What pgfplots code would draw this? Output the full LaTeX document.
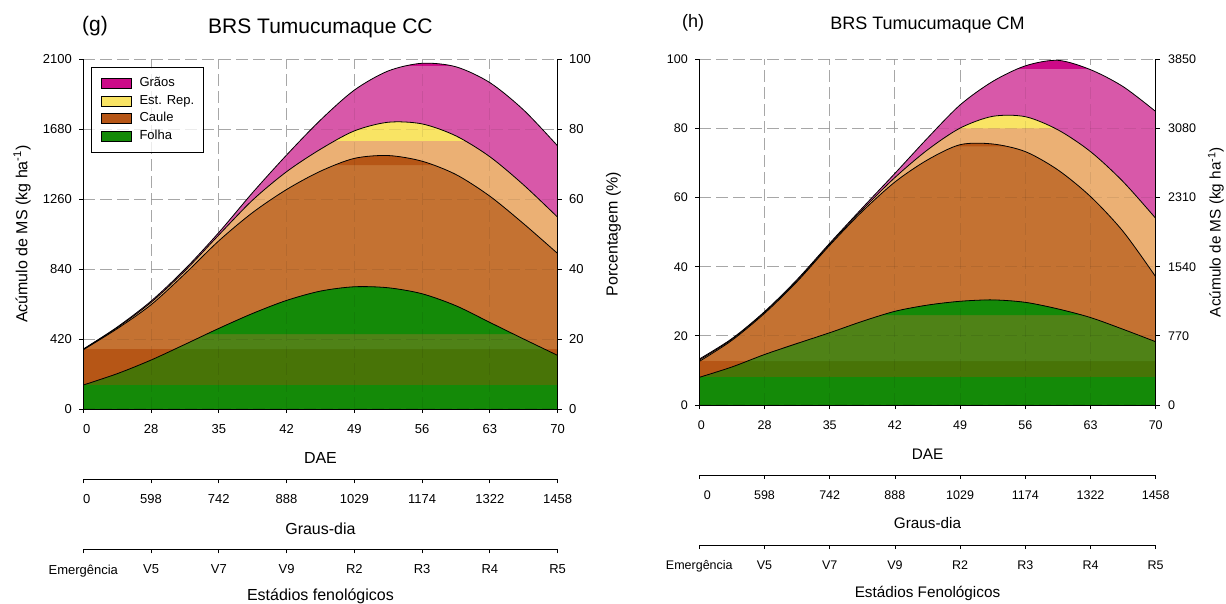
\documentclass[border=0pt]{standalone}
\usepackage{fontspec}
\setmainfont{Liberation Sans}
\usepackage{pgfplots}
\pgfplotsset{compat=1.18}
\usepackage{pgfplotstable}
\usepgfplotslibrary{fillbetween}

\definecolor{cPink}{HTML}{D858A9}
\definecolor{cMag}{HTML}{CC0A88}
\definecolor{cLOr}{HTML}{EBB074}
\definecolor{cYel}{HTML}{F9E464}
\definecolor{cOr}{HTML}{C47232}
\definecolor{cDOr}{HTML}{B65616}
\definecolor{cOlL}{HTML}{4F8217}
\definecolor{cOlD}{HTML}{487407}
\definecolor{cGr}{HTML}{148A08}
\definecolor{cGrid}{HTML}{B6B6B6}

\newcommand{\fs}[1]{\fontsize{#1}{#1}\selectfont}

\pgfplotstableread{
x G E C F
0 360 358 356 144
0.5 492 488 482 212
1 648 640 626 294
1.5 840 830 812 388
2 1060 1045 1010 484
2.5 1300 1255 1180 574
3 1525 1425 1318 652
3.5 1735 1560 1428 708
4 1915 1670 1505 734
4.5 2030 1722 1522 728
5 2076 1712 1488 692
5.5 2055 1640 1408 620
6 1960 1515 1278 520
6.5 1795 1345 1112 420
7 1580 1152 934 322
}\dataG

\pgfplotstableread{
x G E C F
0 13.3 13.0 12.6 8.0
0.5 19.2 19.0 18.7 11.0
1 27.0 26.8 26.5 14.6
1.5 36.3 36.0 35.7 17.8
2 46.8 46.5 46.2 20.9
2.5 57.0 56.5 56.0 24.2
3 67.0 65.8 64.5 27.1
3.5 77.2 73.8 70.9 28.9
4 86.8 80.1 75.3 30.0
4.5 93.6 83.5 75.5 30.4
5 98.1 83.4 73.3 29.7
5.5 99.7 79.6 68.0 27.8
6 97.0 73.3 60.3 25.3
6.5 92.1 64.6 50.2 21.9
7 84.9 54.0 37.1 18.3
}\dataH

\pgfplotsset{
  common/.style={scale only axis, anchor=south west, xmin=0, xmax=7,
    tick align=outside, major tick length=4pt,
    tick style={black, line width=0.8pt},
    axis line style={black, line width=0.9pt},
    xticklabel style={yshift=-8pt},
    scaled ticks=false, /pgf/number format/assume math mode=true},
  curve/.style={black, line width=0.8pt, smooth},
  topgrid/.style={grid=major, grid style={black, opacity=0.08, dash pattern=on 12pt off 5pt, line width=1.1pt},
    major tick length=0pt, xticklabels={}, yticklabels={}, xtick={0,...,7}},
}

\begin{document}
\begin{tikzpicture}

%%%%%%%%%%%%%%%% PANEL G %%%%%%%%%%%%%%%%
\begin{axis}[common,
  at={(83.3pt,194pt)}, width=474.3pt, height=349.7pt,
  ymin=0, ymax=2100,
  axis x line*=bottom, axis y line*=left, xtick pos=left, ytick pos=left,
  xtick={0,...,7}, xticklabels={\hspace{7pt}0,28,35,42,49,56,63,70},
  ytick={0,420,840,1260,1680,2100}, yticklabels={0,420,840,1260,1680,2100},
  yticklabel style={xshift=-4pt},
  grid=major, grid style={color=cGrid, dash pattern=on 12pt off 5pt, line width=1.1pt},
  tick label style={font=\fs{13}},
  xlabel={DAE}, ylabel={Acúmulo de MS (kg ha\textsuperscript{-1})},
  label style={font=\fs{16}},
  xlabel style={at={(axis description cs:0.5,0)}, anchor=center, yshift=-49.3pt},
  ylabel style={at={(axis description cs:-0.1292,0.5)}, anchor=center},
  title={BRS Tumucumaque CC},
  title style={font=\fs{21}, at={(axis description cs:0.5,1)}, anchor=center, yshift=25.3pt},
  legend image code/.code={\draw[#1, draw=black, line width=0.6pt] (0pt,-5pt) rectangle (30pt,5pt);},
  legend cell align=left,
  legend style={at={(axis description cs:0,1)}, anchor=north west, xshift=8.1pt, yshift=-7.4pt,
    draw=black, line width=0.9pt, font=\fs{13}, inner xsep=9.6pt, inner ysep=10pt, row sep=5pt,
    nodes={inner sep=0pt, text height=9.5pt, text depth=3pt},
    /tikz/every odd column/.append style={column sep=7.5pt}},
  extra description/.code={\node[font=\fs{21}] at (axis description cs:0.0247,1.0952) {(g)};},
]
\addlegendimage{fill=cMag}\addlegendentry{Grãos}
\addlegendimage{fill=cYel}\addlegendentry{Est. Rep.}
\addlegendimage{fill=cDOr}\addlegendentry{Caule}
\addlegendimage{fill=cGr}\addlegendentry{Folha}

\addplot[draw=none, name path=base, forget plot] coordinates {(0,0) (7,0)};
\addplot[draw=none, name path=LG, forget plot] coordinates {(0,2060) (7,2060)};
\addplot[draw=none, name path=LE, forget plot] coordinates {(0,1610) (7,1610)};
\addplot[draw=none, name path=LC, forget plot] coordinates {(0,1464) (7,1464)};
\addplot[draw=none, name path=LF1, forget plot] coordinates {(0,360) (7,360)};
\addplot[draw=none, name path=LF2, forget plot] coordinates {(0,450) (7,450)};
\addplot[draw=none, name path=LF0, forget plot] coordinates {(0,144) (7,144)};
\addplot[draw=none, smooth, name path=G, forget plot] table[x=x,y=G]{\dataG};
\addplot[draw=none, smooth, name path=E, forget plot] table[x=x,y=E]{\dataG};
\addplot[draw=none, smooth, name path=C, forget plot] table[x=x,y=C]{\dataG};
\addplot[draw=none, smooth, name path=F, forget plot] table[x=x,y=F]{\dataG};

\addplot[fill=cPink, draw=none, forget plot] fill between[of=G and base];
\addplot[fill=cMag, draw=none, forget plot] fill between[of=G and LG, split, every segment no 0/.style={fill=none}, every segment no 2/.style={fill=none}];
\addplot[fill=cLOr, draw=none, forget plot] fill between[of=E and base];
\addplot[fill=cYel, draw=none, forget plot] fill between[of=E and LE, split, every segment no 0/.style={fill=none}, every segment no 2/.style={fill=none}];
\addplot[fill=cOr, draw=none, forget plot] fill between[of=C and base];
\addplot[fill=cDOr, draw=none, forget plot] fill between[of=C and LC, split, every segment no 0/.style={fill=none}, every segment no 2/.style={fill=none}];
\addplot[fill=cDOr, draw=none, forget plot] fill between[of=LF1 and base];
\addplot[fill=cOlD, draw=none, forget plot] fill between[of=F and base];
\addplot[fill=cOlL, draw=none, forget plot] fill between[of=F and LF1, split, every segment no 0/.style={fill=none}, every segment no 2/.style={fill=none}];
\addplot[fill=cGr, draw=none, forget plot] fill between[of=F and LF2, split, every segment no 0/.style={fill=none}, every segment no 2/.style={fill=none}];
\addplot[fill=cGr, draw=none, forget plot] fill between[of=LF0 and base];

\addplot[curve, forget plot] table[x=x,y=G]{\dataG};
\addplot[curve, forget plot] table[x=x,y=E]{\dataG};
\addplot[curve, forget plot] table[x=x,y=C]{\dataG};
\addplot[curve, forget plot] table[x=x,y=F]{\dataG};
\end{axis}

% faint grid and lines on top (g)
\begin{axis}[common, at={(83.3pt,194pt)}, width=474.3pt, height=349.7pt, ymin=0, ymax=2100,
  axis x line*=bottom, axis y line*=left, topgrid, ytick={0,420,840,1260,1680,2100}]
\addplot[draw=none] coordinates {(0,0)};
\end{axis}

% right axis (g)
\begin{axis}[common, at={(83.3pt,194pt)}, width=474.3pt, height=349.7pt, ymin=0, ymax=100,
  axis x line=none, axis y line*=right, ytick pos=right, xtick=\empty,
  ytick={0,20,40,60,80,100}, yticklabels={0,20,40,60,80,100},
  yticklabel style={xshift=4pt},
  tick label style={font=\fs{13}},
  ylabel={Porcentagem (\%)}, label style={font=\fs{16}},
  ylabel style={at={(axis description cs:1.1179,0.5)}, anchor=center}]
\addplot[draw=none] coordinates {(0,0)};
\end{axis}

% Graus-dia axis (g)
\begin{axis}[common, at={(83.3pt,123.7pt)}, width=474.3pt, height=1pt, ymin=0, ymax=1,
  axis x line*=bottom, axis y line=none, ytick=\empty, xtick pos=left,
  xtick={0,...,7}, xticklabels={\hspace{7pt}0,598,742,888,1029,1174,1322,1458},
  tick label style={font=\fs{13}},
  xlabel={Graus-dia}, label style={font=\fs{16}},
  xlabel style={at={(axis description cs:0.5,0)}, anchor=center, yshift=-49pt}]
\addplot[draw=none] coordinates {(0,0)};
\end{axis}

% Stages axis (g)
\begin{axis}[common, at={(83.3pt,53.7pt)}, width=474.3pt, height=1pt, ymin=0, ymax=1,
  axis x line*=bottom, axis y line=none, ytick=\empty, xtick pos=left,
  xtick={0,...,7}, xticklabels={Emergência,V5,V7,V9,R2,R3,R4,R5},
  tick label style={font=\fs{13}},
  xlabel={Estádios fenológicos}, label style={font=\fs{16}},
  xlabel style={at={(axis description cs:0.5,0)}, anchor=center, yshift=-47.4pt}]
\addplot[draw=none] coordinates {(0,0)};
\end{axis}

%%%%%%%%%%%%%%%% PANEL H %%%%%%%%%%%%%%%%
\begin{axis}[common,
  at={(699.3pt,198pt)}, width=456.4pt, height=345.7pt,
  ymin=0, ymax=100,
  axis x line*=bottom, axis y line*=left, xtick pos=left, ytick pos=left,
  xtick={0,...,7}, xticklabels={\hspace{4pt}0,28,35,42,49,56,63,70},
  ytick={0,20,40,60,80,100}, yticklabels={0,20,40,60,80,100},
  yticklabel style={xshift=-4pt},
  grid=major, grid style={color=cGrid, dash pattern=on 12pt off 5pt, line width=1.1pt},
  tick label style={font=\fs{12.5}},
  xlabel={DAE}, label style={font=\fs{15.3}},
  xlabel style={at={(axis description cs:0.5,0)}, anchor=center, yshift=-49pt},
  title={BRS Tumucumaque CM},
  title style={font=\fs{18}, at={(axis description cs:0.5,1)}, anchor=center, yshift=28.3pt},
  extra description/.code={\node[font=\fs{18}] at (axis description cs:-0.0138,1.104) {(h)};},
]
\addplot[draw=none, name path=base, forget plot] coordinates {(0,0) (7,0)};
\addplot[draw=none, name path=LG, forget plot] coordinates {(0,97.2) (7,97.2)};
\addplot[draw=none, name path=LE, forget plot] coordinates {(0,80) (7,80)};
\addplot[draw=none, name path=LC, forget plot] coordinates {(0,74.8) (7,74.8)};
\addplot[draw=none, name path=LF1, forget plot] coordinates {(0,12.7) (7,12.7)};
\addplot[draw=none, name path=LF2, forget plot] coordinates {(0,26) (7,26)};
\addplot[draw=none, name path=LF0, forget plot] coordinates {(0,8.0) (7,8.0)};
\addplot[draw=none, smooth, name path=G, forget plot] table[x=x,y=G]{\dataH};
\addplot[draw=none, smooth, name path=E, forget plot] table[x=x,y=E]{\dataH};
\addplot[draw=none, smooth, name path=C, forget plot] table[x=x,y=C]{\dataH};
\addplot[draw=none, smooth, name path=F, forget plot] table[x=x,y=F]{\dataH};

\addplot[fill=cPink, draw=none, forget plot] fill between[of=G and base];
\addplot[fill=cMag, draw=none, forget plot] fill between[of=G and LG, split, every segment no 0/.style={fill=none}, every segment no 2/.style={fill=none}];
\addplot[fill=cLOr, draw=none, forget plot] fill between[of=E and base];
\addplot[fill=cYel, draw=none, forget plot] fill between[of=E and LE, split, every segment no 0/.style={fill=none}, every segment no 2/.style={fill=none}];
\addplot[fill=cOr, draw=none, forget plot] fill between[of=C and base];
\addplot[fill=cDOr, draw=none, forget plot] fill between[of=C and LC, split, every segment no 0/.style={fill=none}, every segment no 2/.style={fill=none}];
\addplot[fill=cDOr, draw=none, forget plot] fill between[of=LF1 and base];
\addplot[fill=cOlD, draw=none, forget plot] fill between[of=F and base];
\addplot[fill=cOlL, draw=none, forget plot] fill between[of=F and LF1, split, every segment no 0/.style={fill=none}, every segment no 2/.style={fill=none}];
\addplot[fill=cGr, draw=none, forget plot] fill between[of=F and LF2, split, every segment no 0/.style={fill=none}, every segment no 2/.style={fill=none}];
\addplot[fill=cGr, draw=none, forget plot] fill between[of=LF0 and base];

\addplot[curve, forget plot] table[x=x,y=G]{\dataH};
\addplot[curve, forget plot] table[x=x,y=E]{\dataH};
\addplot[curve, forget plot] table[x=x,y=C]{\dataH};
\addplot[curve, forget plot] table[x=x,y=F]{\dataH};
\end{axis}

\begin{axis}[common, at={(699.3pt,198pt)}, width=456.4pt, height=345.7pt, ymin=0, ymax=100,
  axis x line*=bottom, axis y line*=left, topgrid, ytick={0,20,40,60,80,100}]
\addplot[draw=none] coordinates {(0,0)};
\end{axis}

\begin{axis}[common, at={(699.3pt,198pt)}, width=456.4pt, height=345.7pt, ymin=0, ymax=3850,
  axis x line=none, axis y line*=right, ytick pos=right, xtick=\empty,
  ytick={0,770,1540,2310,3080,3850}, yticklabels={0,770,1540,2310,3080,3850},
  yticklabel style={xshift=5pt},
  tick label style={font=\fs{12.5}},
  ylabel={Acúmulo de MS (kg ha\textsuperscript{-1})}, label style={font=\fs{15.3}},
  ylabel style={at={(axis description cs:1.1321,0.5)}, anchor=center}]
\addplot[draw=none] coordinates {(0,0)};
\end{axis}

\begin{axis}[common, at={(699.3pt,128pt)}, width=456.4pt, height=1pt, ymin=0, ymax=1,
  axis x line*=bottom, axis y line=none, ytick=\empty, xtick pos=left,
  xtick={0,...,7}, xticklabels={\hspace{16pt}0,598,742,888,1029,1174,1322,1458},
  tick label style={font=\fs{12.5}},
  xlabel={Graus-dia}, label style={font=\fs{15.3}},
  xlabel style={at={(axis description cs:0.5,0)}, anchor=center, yshift=-48pt}]
\addplot[draw=none] coordinates {(0,0)};
\end{axis}

\begin{axis}[common, at={(699.3pt,58pt)}, width=456.4pt, height=1pt, ymin=0, ymax=1,
  axis x line*=bottom, axis y line=none, ytick=\empty, xtick pos=left,
  xtick={0,...,7}, xticklabels={Emergência,V5,V7,V9,R2,R3,R4,R5},
  tick label style={font=\fs{12.5}},
  xlabel={Estádios Fenológicos}, label style={font=\fs{15.3}},
  xlabel style={at={(axis description cs:0.5,0)}, anchor=center, yshift=-48pt}]
\addplot[draw=none] coordinates {(0,0)};
\end{axis}

\pgfresetboundingbox
\path[use as bounding box] (0,0) rectangle (1226pt,603pt);
\end{tikzpicture}
\end{document}
